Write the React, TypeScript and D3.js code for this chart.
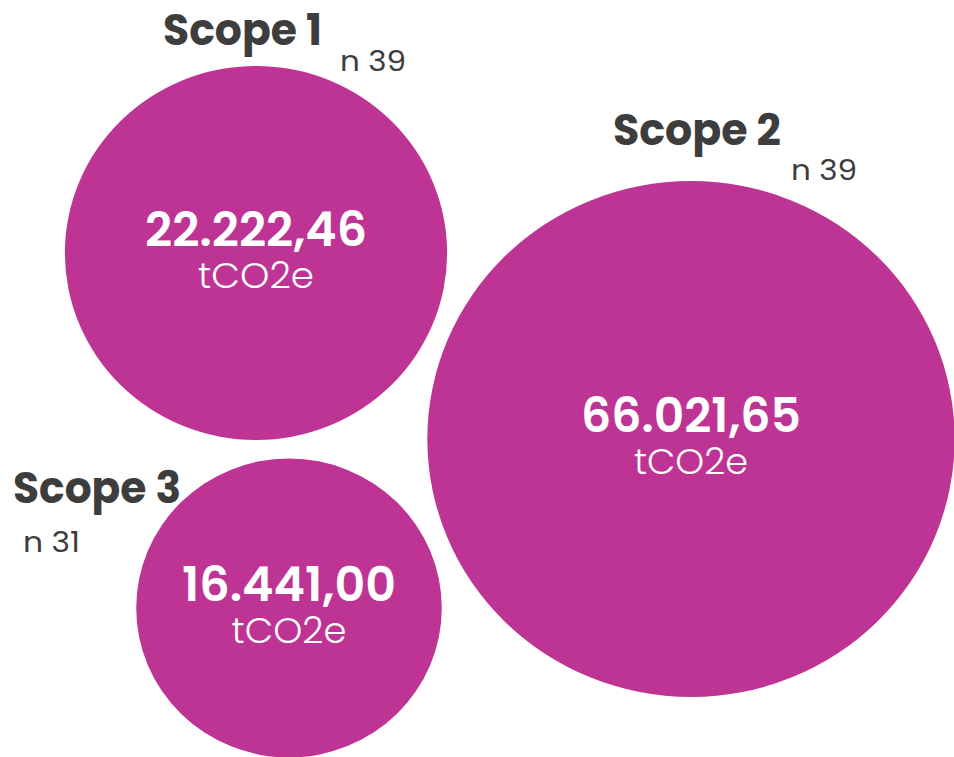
import React from "react";
import * as d3 from "d3";

// ---- data ----
const scopes: string[] = ["Scope 1", "Scope 2", "Scope 3"];
const emissions: number[] = [22222.46, 66021.65, 16441.0];
const respondents: number[] = [39, 39, 31];
const unit = "tCO2e";

// ---- layout (positions/sizes, not data) ----
const W = 954;
const H = 757;
const stretchX = 1.022; // reference is slightly wider than tall
const layout = [
  { cx: 256, cy: 253, r: 187, title: { x: 163, y: 45, w: 159 }, n: { x: 340, y: 71, w: 66 }, vw: 222, uw: 116 },
  { cx: 691, cy: 439, r: 258, title: { x: 613, y: 145, w: 168 }, n: { x: 791, y: 180, w: 66 }, vw: 220, uw: 114 },
  { cx: 289, cy: 608, r: 149.5, title: { x: 13, y: 503, w: 168 }, n: { x: 23, y: 552, w: 57 }, vw: 214, uw: 115 },
];

const fmt = d3
  .formatLocale({ decimal: ",", thousands: ".", grouping: [3], currency: ["", ""] })
  .format(",.2f");

const FONT = "Poppins, Inter, 'Open Sans', sans-serif";
const MAGENTA = "#be3494";
const GREY = "#3d3d3d";

export default function App() {
  const rows = d3.zip(scopes, emissions, respondents).map(([s, v, n], i) => ({
    s: s as string,
    v: v as number,
    n: n as number,
    L: layout[i],
  }));

  return (
    <svg
      width={W}
      height={H}
      style={{ position: "fixed", left: 0, top: 0, background: "#fff" }}
      fontFamily={FONT}
    >
      {rows.map((d) => (
        <g key={d.s}>
          <ellipse cx={d.L.cx} cy={d.L.cy} rx={d.L.r * stretchX} ry={d.L.r} fill={MAGENTA} />
          <text
            x={d.L.title.x}
            y={d.L.title.y}
            fontSize={44}
            fontWeight={700}
            fill={GREY}
            textLength={d.L.title.w}
            lengthAdjust="spacingAndGlyphs"
          >
            {d.s}
          </text>
          <text
            x={d.L.n.x}
            y={d.L.n.y}
            fontSize={29}
            fontWeight={400}
            fill={GREY}
            textLength={d.L.n.w}
            lengthAdjust="spacingAndGlyphs"
          >
            {`n ${d.n}`}
          </text>
          <text
            x={d.L.cx}
            y={d.L.cy - 7}
            textAnchor="middle"
            fontSize={47}
            fontWeight={600}
            fill="#fff"
            textLength={d.L.vw}
            lengthAdjust="spacingAndGlyphs"
          >
            {fmt(d.v)}
          </text>
          <text
            x={d.L.cx}
            y={d.L.cy + 35}
            textAnchor="middle"
            fontSize={36}
            fontWeight={300}
            fill="#fff"
            textLength={d.L.uw}
            lengthAdjust="spacingAndGlyphs"
          >
            {unit}
          </text>
        </g>
      ))}
    </svg>
  );
}
